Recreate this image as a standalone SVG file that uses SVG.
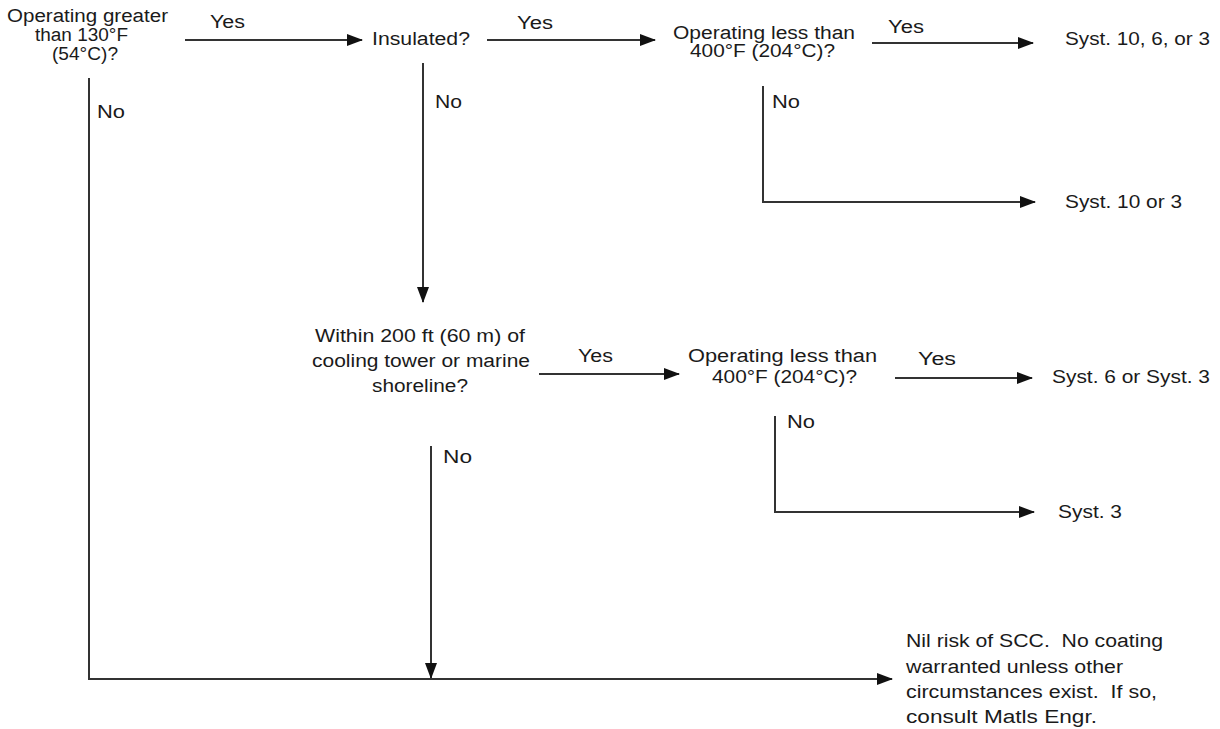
<svg xmlns="http://www.w3.org/2000/svg" width="1220" height="729" viewBox="0 0 1220 729">
<style>
text{font-family:"Liberation Sans",Arial,sans-serif;font-size:18px;fill:#1a1a1a}
.c{fill:none;stroke:#333;stroke-width:2}
</style>
<defs>
<marker id="ah" markerWidth="16" markerHeight="12" refX="15" refY="6" orient="auto" markerUnits="userSpaceOnUse">
<path d="M0,0 L16,6 L0,12 Z" fill="#111"/>
</marker>
</defs>
<rect width="1220" height="729" fill="#fff"/>
<g id="connectors">
<line class="c" x1="185" y1="40" x2="362" y2="40" marker-end="url(#ah)"/>
<line class="c" x1="487" y1="40" x2="655" y2="40" marker-end="url(#ah)"/>
<line class="c" x1="872" y1="43" x2="1033" y2="43" marker-end="url(#ah)"/>
<polyline class="c" points="763,86 763,202 1035,202" marker-end="url(#ah)"/>
<line class="c" x1="423" y1="63" x2="423" y2="302" marker-end="url(#ah)"/>
<line class="c" x1="539" y1="374" x2="679" y2="374" marker-end="url(#ah)"/>
<line class="c" x1="895" y1="378" x2="1032" y2="378" marker-end="url(#ah)"/>
<polyline class="c" points="775,416 775,512 1034,512" marker-end="url(#ah)"/>
<line class="c" x1="431" y1="446" x2="431" y2="678" marker-end="url(#ah)"/>
<polyline class="c" points="89,78 89,679 892,679" marker-end="url(#ah)"/>
<text x="210" y="28" textLength="35" lengthAdjust="spacingAndGlyphs">Yes</text>
<text x="517" y="29" textLength="36" lengthAdjust="spacingAndGlyphs">Yes</text>
<text x="888" y="33" textLength="36" lengthAdjust="spacingAndGlyphs">Yes</text>
<text x="578" y="362" textLength="35" lengthAdjust="spacingAndGlyphs">Yes</text>
<text x="918" y="365" textLength="38" lengthAdjust="spacingAndGlyphs">Yes</text>
<text x="97" y="118" textLength="28" lengthAdjust="spacingAndGlyphs">No</text>
<text x="435" y="108" textLength="27" lengthAdjust="spacingAndGlyphs">No</text>
<text x="772" y="108" textLength="28" lengthAdjust="spacingAndGlyphs">No</text>
<text x="443" y="463" textLength="29" lengthAdjust="spacingAndGlyphs">No</text>
<text x="787" y="428" textLength="28" lengthAdjust="spacingAndGlyphs">No</text>
</g>
<g id="q1">
<text x="7" y="22" textLength="161" lengthAdjust="spacingAndGlyphs">Operating greater</text>
<text x="35" y="41" textLength="93" lengthAdjust="spacingAndGlyphs">than 130°F</text>
<text x="52" y="60" textLength="66" lengthAdjust="spacingAndGlyphs">(54°C)?</text>
</g>
<g id="q2">
<text x="372" y="45" textLength="98" lengthAdjust="spacingAndGlyphs">Insulated?</text>
</g>
<g id="q3">
<text x="673" y="39" textLength="182" lengthAdjust="spacingAndGlyphs">Operating less than</text>
<text x="690" y="57" textLength="145" lengthAdjust="spacingAndGlyphs">400°F (204°C)?</text>
</g>
<g id="r1">
<text x="1065" y="45" textLength="145" lengthAdjust="spacingAndGlyphs">Syst. 10, 6, or 3</text>
</g>
<g id="r2">
<text x="1065" y="208" textLength="117" lengthAdjust="spacingAndGlyphs">Syst. 10 or 3</text>
</g>
<g id="q4">
<text x="315" y="342" textLength="210" lengthAdjust="spacingAndGlyphs">Within 200 ft (60 m) of</text>
<text x="312" y="367" textLength="218" lengthAdjust="spacingAndGlyphs">cooling tower or marine</text>
<text x="372" y="392" textLength="96" lengthAdjust="spacingAndGlyphs">shoreline?</text>
</g>
<g id="q5">
<text x="688" y="362" textLength="189" lengthAdjust="spacingAndGlyphs">Operating less than</text>
<text x="712" y="383" textLength="145" lengthAdjust="spacingAndGlyphs">400°F (204°C)?</text>
</g>
<g id="r3">
<text x="1052" y="383" textLength="158" lengthAdjust="spacingAndGlyphs">Syst. 6 or Syst. 3</text>
</g>
<g id="r4">
<text x="1058" y="518" textLength="64" lengthAdjust="spacingAndGlyphs">Syst. 3</text>
</g>
<g id="r5">
<text x="906" y="647" textLength="257" lengthAdjust="spacingAndGlyphs" xml:space="preserve">Nil risk of SCC.  No coating</text>
<text x="906" y="673" textLength="217" lengthAdjust="spacingAndGlyphs">warranted unless other</text>
<text x="906" y="698" textLength="251" lengthAdjust="spacingAndGlyphs" xml:space="preserve">circumstances exist.  If so,</text>
<text x="906" y="723" textLength="191" lengthAdjust="spacingAndGlyphs">consult Matls Engr.</text>
</g>
</svg>
